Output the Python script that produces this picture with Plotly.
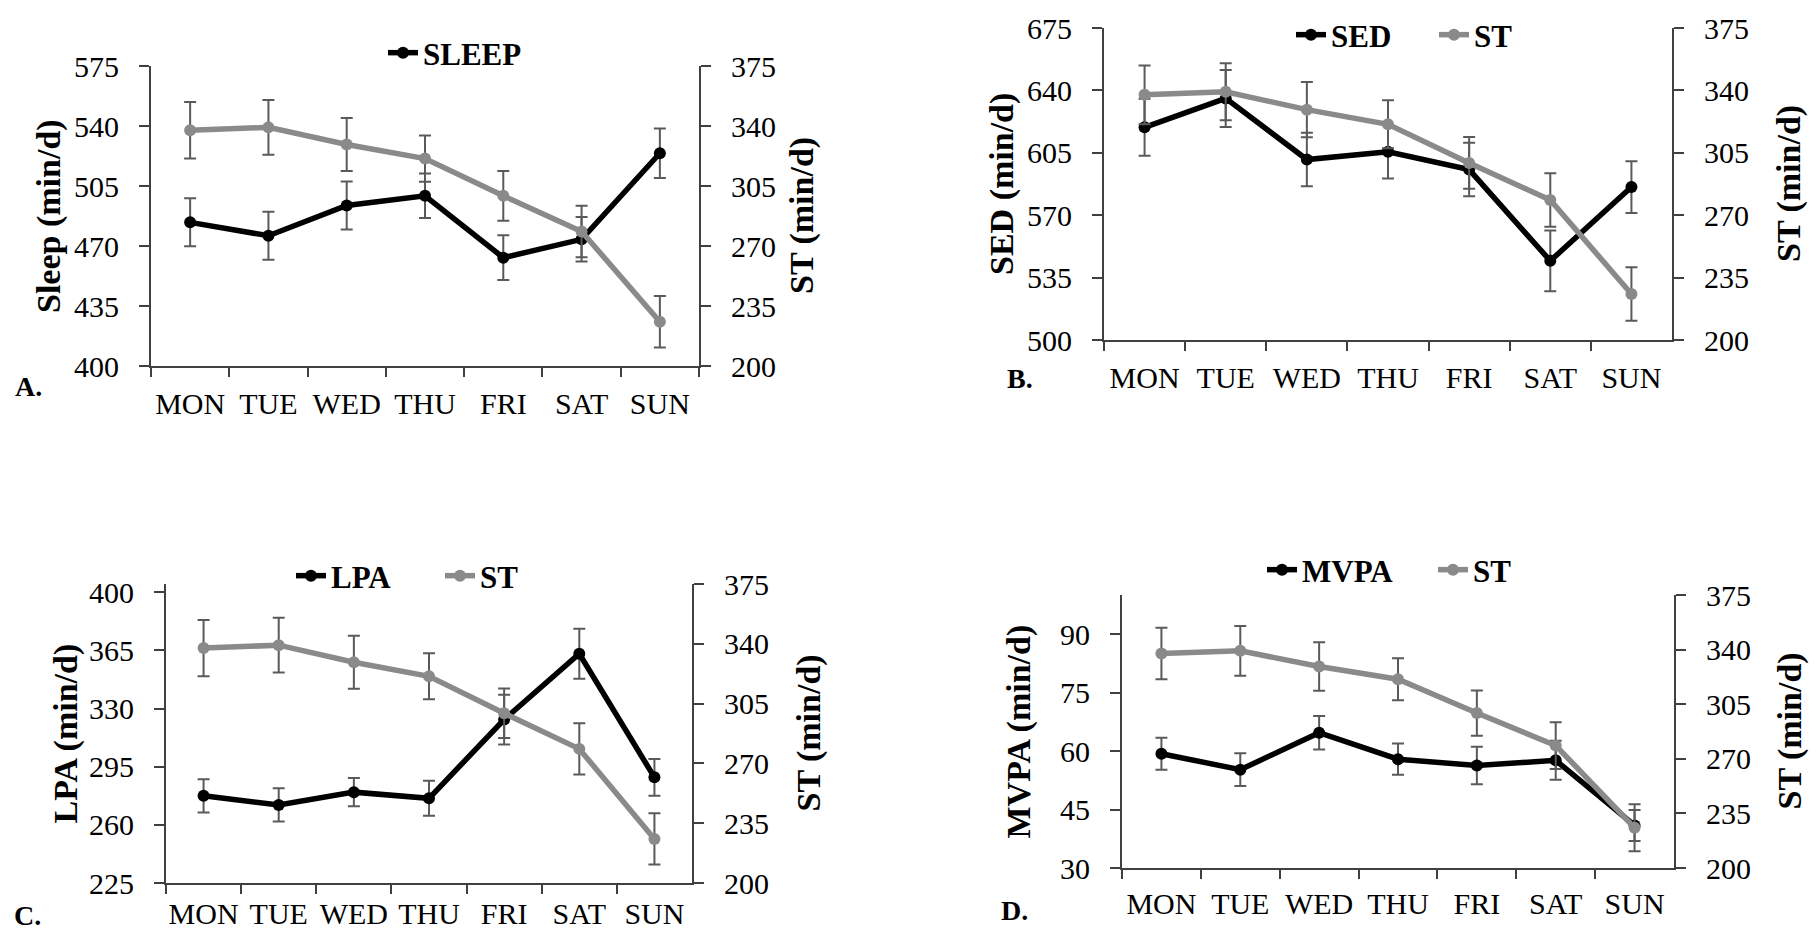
import plotly.graph_objects as go

# ---------------- data ----------------
days = ["MON", "TUE", "WED", "THU", "FRI", "SAT", "SUN"]

st = [337.5, 339.2, 329.2, 321.0, 299.3, 278.5, 225.8]
st_err = [16.5, 16.0, 15.5, 13.5, 14.5, 15.0, 15.0]

sleep = [483.8, 476.0, 493.6, 499.3, 463.2, 473.9, 524.1]
sleep_err = [14.0, 14.0, 14.0, 13.0, 13.0, 13.0, 14.5]

sed = [619.3, 635.5, 601.2, 605.6, 595.6, 544.4, 585.8]
sed_err = [16.0, 16.0, 15.0, 15.0, 15.0, 17.0, 14.5]

lpa = [277.5, 272.0, 279.7, 276.0, 323.4, 363.0, 288.6]
lpa_err = [10.0, 10.0, 8.5, 10.5, 15.0, 15.0, 11.0]

mvpa = [59.3, 55.2, 64.7, 57.9, 56.3, 57.6, 40.9]
mvpa_err = [4.1, 4.2, 4.3, 4.0, 4.8, 5.0, 4.0]

st_ticks = [200, 235, 270, 305, 340, 375]

# ---------------- styling ----------------
OFF = 8                     # page body offset of the figure
W, H = 1817 - 2 * OFF, 938 - 2 * OFF
MT, MB = 12, 40             # top / bottom margins (px)
HP = H - MT - MB            # plot-area height
FONT = "Liberation Serif, Times New Roman, serif"
BLACK = "#000000"
GRAY = "#8a8a8a"
ERR = "#5a5a5a"
AXC = "#404040"
TICKFONT = dict(family=FONT, size=30, color="black")


def px_x(p):
    return (p - OFF) / W


def px_y(p):
    return 1 - (p - OFF - MT) / HP


# panel geometry in screen pixels: (left, right, top, bottom)
panels = {
    "A": dict(l=151, r=699, t=66, b=366),
    "B": dict(l=1104, r=1672, t=28, b=340),
    "C": dict(l=166, r=692, t=584, b=883),
    "D": dict(l=1122, r=1674, t=595, b=868),
}

fig = go.Figure()

specs = [
    # key, name, values, errors, left range, left ticks, show ST legend, left title
    ("A", "SLEEP", sleep, sleep_err, [400, 575], [400, 435, 470, 505, 540, 575], False, "Sleep (min/d)"),
    ("B", "SED", sed, sed_err, [500, 675], [500, 535, 570, 605, 640, 675], True, "SED (min/d)"),
    ("C", "LPA", lpa, lpa_err, [225, 405], [225, 260, 295, 330, 365, 400], True, "LPA (min/d)"),
    ("D", "MVPA", mvpa, mvpa_err, [30, 100], [30, 45, 60, 75, 90], True, "MVPA (min/d)"),
]

# legend top-left corner positions (screen px) and entry widths
legend_pos = {
    "A": (383, 26),
    "B": (1291, 8),
    "C": (291, 549),
    "D": (1262, 543),
}
legend_entry = {"A": None, "B": 98, "C": 104, "D": 126}
xlabel_standoff = {"A": 10, "B": 10, "C": 3, "D": 8}
left_title_x = {"A": 49, "B": 1002, "C": 65, "D": 1018}
right_title_x = {"A": 802, "B": 1789, "C": 808, "D": 1789}
letters = {"A": (28, 387), "B": (1020, 378), "C": (27, 915), "D": (1015, 910)}

annotations = []
layout_axes = {}

for i, (key, name, vals, errs, lrange, lticks, st_leg, ltitle) in enumerate(specs):
    n = i + 1
    xa = "x" if n == 1 else f"x{n}"
    ya_l = f"y{2 * n - 1}" if n > 1 else "y"
    ya_r = f"y{2 * n}"
    leg = "legend" if n == 1 else f"legend{n}"
    g = panels[key]

    fig.add_trace(go.Scatter(
        x=days, y=vals, name=name, xaxis=xa, yaxis=ya_l, legend=leg,
        mode="lines+markers",
        line=dict(color=BLACK, width=5.5),
        marker=dict(color=BLACK, size=12, symbol="circle"),
        error_y=dict(type="data", array=errs, visible=True, color=ERR, thickness=2, width=6),
    ))
    fig.add_trace(go.Scatter(
        x=days, y=st, name="ST", xaxis=xa, yaxis=ya_r, legend=leg,
        showlegend=st_leg,
        mode="lines+markers",
        line=dict(color=GRAY, width=5.5),
        marker=dict(color=GRAY, size=12, symbol="circle"),
        error_y=dict(type="data", array=st_err, visible=True, color=ERR, thickness=2, width=6),
    ))

    xkey = "xaxis" if n == 1 else f"xaxis{n}"
    ylkey = "yaxis" if n == 1 else f"yaxis{2 * n - 1}"
    yrkey = f"yaxis{2 * n}"

    layout_axes[xkey] = dict(
        domain=[px_x(g["l"]), px_x(g["r"])],
        anchor=ya_l,
        type="category", categoryorder="array", categoryarray=days,
        range=[-0.5, 6.5],
        showline=True, linecolor=AXC, linewidth=2,
        ticks="outside", tickson="boundaries", ticklen=9, tickwidth=2, tickcolor=AXC,
        showgrid=False, zeroline=False, tickangle=0, automargin=False,
        tickfont=TICKFONT, ticklabelstandoff=xlabel_standoff[key],
        fixedrange=True,
    )
    layout_axes[ylkey] = dict(
        domain=[px_y(g["b"]), px_y(g["t"])],
        anchor=xa,
        range=lrange, tickvals=lticks,
        showline=True, linecolor=AXC, linewidth=2,
        ticks="outside", ticklen=10, tickwidth=2, tickcolor=AXC,
        showgrid=False, zeroline=False, automargin=False,
        tickfont=TICKFONT, ticklabelstandoff=14,
    )
    layout_axes[yrkey] = dict(
        domain=[px_y(g["b"]), px_y(g["t"])],
        anchor=xa, overlaying=ya_l, side="right",
        range=[200, 375], tickvals=st_ticks,
        showline=True, linecolor=AXC, linewidth=2,
        ticks="outside", ticklen=10, tickwidth=2, tickcolor=AXC,
        showgrid=False, zeroline=False, automargin=False,
        tickfont=TICKFONT, ticklabelstandoff=14,
    )

    lx, ly = legend_pos[key]
    legd = dict(
        orientation="h", x=px_x(lx), y=px_y(ly), xanchor="left", yanchor="top",
        font=dict(family=FONT, size=31, color="black", weight="bold"),
        bgcolor="rgba(0,0,0,0)", itemwidth=30, tracegroupgap=0, borderwidth=0,
    )
    if legend_entry[key]:
        legd["entrywidth"] = legend_entry[key]
        legd["entrywidthmode"] = "pixels"
    layout_axes[leg] = legd

    cy = (g["t"] + g["b"]) / 2
    annotations.append(dict(
        text=ltitle, x=px_x(left_title_x[key]), y=px_y(cy), xref="paper", yref="paper",
        textangle=-90, showarrow=False, xanchor="center", yanchor="middle",
        font=dict(family=FONT, size=34, color="black", weight="bold"),
    ))
    annotations.append(dict(
        text="ST (min/d)", x=px_x(right_title_x[key]), y=px_y(cy), xref="paper", yref="paper",
        textangle=-90, showarrow=False, xanchor="center", yanchor="middle",
        font=dict(family=FONT, size=34, color="black", weight="bold"),
    ))
    lxp, lyp = letters[key]
    annotations.append(dict(
        text=f"{key}.", x=px_x(lxp), y=px_y(lyp), xref="paper", yref="paper",
        showarrow=False, xanchor="center", yanchor="middle",
        font=dict(family=FONT, size=28, color="black", weight="bold"),
    ))

fig.update_layout(
    template="none",
    width=W, height=H,
    margin=dict(l=0, r=0, t=MT, b=MB, pad=0),
    paper_bgcolor="white", plot_bgcolor="white",
    annotations=annotations,
    **layout_axes,
)

fig.write_html("out.html")
